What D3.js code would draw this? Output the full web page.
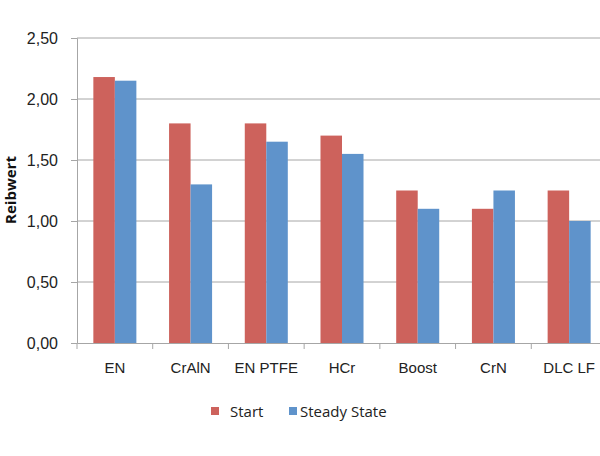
<!DOCTYPE html>
<html>
<head>
<meta charset="utf-8">
<script src="https://cdn.jsdelivr.net/npm/d3@7"></script>
<style>
body { margin: 0; background: #fff; }
</style>
</head>
<body>
<div id="chart"></div>
<script>
var categories = ["EN", "CrAlN", "EN PTFE", "HCr", "Boost", "CrN", "DLC LF"];
var startValues = [2.18, 1.80, 1.80, 1.70, 1.25, 1.10, 1.25];
var steadyValues = [2.15, 1.30, 1.65, 1.55, 1.10, 1.25, 1.00];
var seriesNames = ["Start", "Steady State"];
var yTicks = [0, 0.5, 1, 1.5, 2, 2.5];

var colors = ["#cd625c", "#5f93cb"];
var margin = { top: 38, right: 0, bottom: 113, left: 77 };
var width = 607 - margin.left;
var height = 343 - margin.top;

var svg = d3.select("#chart")
    .append("svg")
    .attr("width", 600)
    .attr("height", 456)
    .style("font-family", "'Open Sans', sans-serif");

var g = svg.append("g")
    .attr("transform", "translate(" + margin.left + "," + margin.top + ")");

var x = d3.scaleBand()
    .domain(categories)
    .range([0, width]);

var xInner = d3.scaleBand()
    .domain(seriesNames)
    .range([0, x.bandwidth()])
    .paddingInner(0)
    .paddingOuter(0.76);

var y = d3.scaleLinear()
    .domain([0, 2.5])
    .range([height, 0]);

// gridlines
g.append("g")
    .selectAll("line")
    .data(yTicks.slice(1))
    .join("line")
    .attr("x1", 0)
    .attr("x2", width)
    .attr("y1", function (d) { return y(d); })
    .attr("y2", function (d) { return y(d); })
    .attr("stroke", "#a6a6a6")
    .attr("stroke-width", 1);

// bars
var rows = categories.map(function (c, i) {
    return { cat: c, values: [startValues[i], steadyValues[i]] };
});

g.append("g")
    .selectAll("g")
    .data(rows)
    .join("g")
    .attr("transform", function (d) { return "translate(" + x(d.cat) + ",0)"; })
    .selectAll("rect")
    .data(function (d) {
        return d.values.map(function (v, i) { return { name: seriesNames[i], value: v, i: i }; });
    })
    .join("rect")
    .attr("x", function (d) { return xInner(d.name); })
    .attr("width", xInner.bandwidth())
    .attr("y", function (d) { return y(d.value); })
    .attr("height", function (d) { return height - y(d.value); })
    .attr("fill", function (d) { return colors[d.i]; });

// y axis
var yAxis = g.append("g")
    .call(d3.axisLeft(y).tickValues(yTicks).tickSize(6).tickPadding(13)
        .tickFormat(function (d) { return d3.format(".2f")(d).replace(".", ","); }));
yAxis.select(".domain").attr("stroke", "#a6a6a6");
yAxis.selectAll(".tick line").attr("stroke", "#a6a6a6");
yAxis.selectAll(".tick text")
    .attr("fill", "#222")
    .style("font-size", "16px");

// x axis
var xAxis = g.append("g")
    .attr("transform", "translate(0," + height + ")")
    .call(d3.axisBottom(x).tickSize(0).tickPadding(19));
xAxis.select(".domain").attr("stroke", "#a6a6a6");
xAxis.selectAll(".tick text")
    .attr("fill", "#222")
    .style("font-size", "15px");

xAxis.selectAll(".cat-tick")
    .data(d3.range(categories.length + 1))
    .join("line")
    .attr("class", "cat-tick")
    .attr("x1", function (i) { return i * x.step(); })
    .attr("x2", function (i) { return i * x.step(); })
    .attr("y1", 0)
    .attr("y2", 6)
    .attr("stroke", "#a6a6a6");

// y label
svg.append("text")
    .attr("transform", "rotate(-90)")
    .attr("x", -190)
    .attr("y", 16)
    .attr("text-anchor", "middle")
    .style("font-size", "15px")
    .attr("font-weight", 700)
    .attr("fill", "#111")
    .text("Reibwert");

// legend
var legendX = [211, 289];
var legendGap = [19, 11];
var legend = svg.append("g")
    .selectAll("g")
    .data(seriesNames)
    .join("g")
    .attr("transform", function (d, i) { return "translate(" + legendX[i] + ",407)"; });

legend.append("rect")
    .attr("width", 8)
    .attr("height", 8)
    .attr("fill", function (d, i) { return colors[i]; });

legend.append("text")
    .attr("x", function (d, i) { return legendGap[i]; })
    .attr("y", 10)
    .style("font-size", "15px")
    .attr("fill", "#222")
    .text(function (d) { return d; });
</script>
</body>
</html>
